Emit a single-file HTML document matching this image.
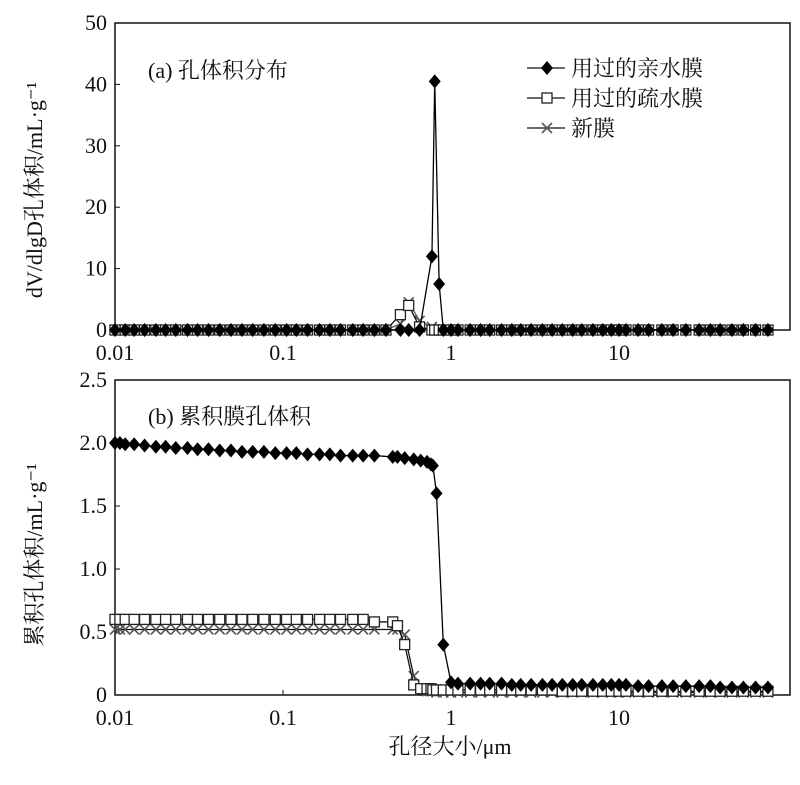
<!DOCTYPE html>
<html><head><meta charset="utf-8"><style>
body{margin:0;background:#fff}
svg text{font-family:"Liberation Serif","Noto Serif CJK SC","Noto Sans CJK SC",serif;fill:#111}
</style></head><body>
<svg id="c" width="800" height="780" xmlns="http://www.w3.org/2000/svg"></svg>
<script>
// ---- data ----
const xsA = [0.01,0.0115,0.013,0.015,0.0175,0.02,0.023,0.027,0.031,0.036,0.042,0.049,0.057,0.066,0.077,0.09,0.105,0.12,0.14,0.165,0.19,0.22,0.26,0.3,0.35,0.41,0.5,0.56,0.65,0.77,0.8,0.85,0.9,1.0,1.1,1.3,1.5,1.7,2,2.3,2.6,3,3.5,4,4.6,5.3,6,7,8,9,10,11,13,15,18,21,25,30,35,40,47,55,65,77];
const hydrophilicA = [0,0,0,0,0,0,0,0,0,0,0,0,0,0,0,0,0,0,0,0,0,0,0,0,0,0,0,0,0,12,40.5,7.5,0,0,0,0,0,0,0,0,0,0,0,0,0,0,0,0,0,0,0,0,0,0,0,0,0,0,0,0,0,0,0,0];
const hydrophobicA = [0,0,0,0,0,0,0,0,0,0,0,0,0,0,0,0,0,0,0,0,0,0,0,0,0,0,2.5,4,0.5,0,0,0,0,0,0,0,0,0,0,0,0,0,0,0,0,0,0,0,0,0,0,0,0,0,0,0,0,0,0,0,0,0,0,0];
const newA = [0,0,0,0,0,0,0,0,0,0,0,0,0,0,0,0,0,0,0,0,0,0,0,0,0,0,1,4.5,1.5,0.5,0,0,0,0,0,0,0,0,0,0,0,0,0,0,0,0,0,0,0,0,0,0,0,0,0,0,0,0,0,0,0,0,0,0];
const xsB = [0.01,0.0107,0.0115,0.013,0.015,0.0175,0.02,0.023,0.027,0.031,0.036,0.042,0.049,0.057,0.066,0.077,0.09,0.105,0.12,0.14,0.165,0.19,0.22,0.26,0.3,0.35,0.45,0.48,0.53,0.6,0.66,0.72,0.76,0.78,0.82,0.9,1.0,1.1,1.3,1.5,1.7,2,2.3,2.6,3,3.5,4,4.6,5.3,6,7,8,9,10,11,13,15,18,21,25,30,35,40,47,55,65,77];
const hydrophilicB = [2.0,2.0,1.99,1.99,1.98,1.97,1.97,1.96,1.96,1.95,1.95,1.94,1.94,1.93,1.93,1.93,1.92,1.92,1.92,1.91,1.91,1.91,1.9,1.9,1.9,1.9,1.89,1.89,1.88,1.87,1.86,1.85,1.83,1.82,1.6,0.4,0.1,0.09,0.09,0.09,0.09,0.09,0.08,0.08,0.08,0.08,0.08,0.08,0.08,0.08,0.08,0.08,0.08,0.08,0.08,0.07,0.07,0.07,0.07,0.07,0.07,0.07,0.06,0.06,0.06,0.06,0.06];
const hydrophobicB = [0.6,0.6,0.6,0.6,0.6,0.6,0.6,0.6,0.6,0.6,0.6,0.6,0.6,0.6,0.6,0.6,0.6,0.6,0.6,0.6,0.6,0.6,0.6,0.6,0.6,0.58,0.58,0.55,0.4,0.08,0.05,0.05,0.05,0.04,0.04,0.04,0.04,0.04,0.04,0.04,0.04,0.04,0.04,0.04,0.04,0.04,0.04,0.03,0.03,0.03,0.03,0.03,0.03,0.03,0.03,0.03,0.03,0.03,0.03,0.03,0.03,0.03,0.03,0.03,0.03,0.03,0.03];
const newB = [0.52,0.52,0.52,0.52,0.52,0.52,0.52,0.52,0.52,0.52,0.52,0.52,0.52,0.52,0.52,0.52,0.52,0.52,0.52,0.52,0.52,0.52,0.52,0.52,0.52,0.52,0.52,0.52,0.48,0.15,0.04,0.03,0.03,0.03,0.02,0.02,0.02,0.02,0.02,0.02,0.02,0.02,0.02,0.02,0.02,0.02,0.02,0.02,0.02,0.02,0.02,0.02,0.02,0.02,0.02,0.02,0.02,0.02,0.02,0.02,0.02,0.02,0.02,0.02,0.02,0.02,0.02];
const xTicks = [0.01,0.1,1,10];
const xTickLabels = ["0.01","0.1","1","10"];
const yTicksA = [0,10,20,30,40,50];
const yTicksB = [0,0.5,1.0,1.5,2.0,2.5];
const yTickLabelsB = ["0","0.5","1.0","1.5","2.0","2.5"];
const legendNames = ["用过的亲水膜","用过的疏水膜","新膜"];

const NS="http://www.w3.org/2000/svg", svg=document.getElementById('c');
function mk(t,a,p){const e=document.createElementNS(NS,t);for(const k in a)e.setAttribute(k,a[k]);(p||svg).appendChild(e);return e;}
const L=115,R=790;
const xs=v=>L+(Math.log10(v)+2)*168;
function panel(top,bot,ymax,yt,ytl,name){
  const g=mk('g',{});
  
  
  const y=v=>bot-(v/ymax)*(bot-top);
  const fr=mk('rect',{x:L,y:top,width:R-L,height:bot-top,fill:'none',stroke:'#111','stroke-width':1.5},g);
  
  
  yt.forEach((v,i)=>{
    mk('line',{x1:L,x2:L+5,y1:y(v),y2:y(v),stroke:'#111'},g);
    const t=mk('text',{x:L-8,y:y(v)+7,'text-anchor':'end','font-size':22},g);
    t.textContent=ytl?ytl[i]:String(v);
    
    
  });
  xTicks.forEach((v,i)=>{
    mk('line',{x1:xs(v),x2:xs(v),y1:bot,y2:bot-5,stroke:'#111'},g);
    const t=mk('text',{x:xs(v),y:bot+30,'text-anchor':'middle','font-size':22},g);
    t.textContent=xTickLabels[i];
    
    
  });
  return {g,y};
}
function marker(g,type,cx,cy){
  let e;
  if(type==='d') e=mk('path',{d:`M${cx} ${cy-7}L${cx+6} ${cy}L${cx} ${cy+7}L${cx-6} ${cy}Z`,fill:'#000'},g);
  else if(type==='s') e=mk('rect',{x:cx-5,y:cy-5,width:10,height:10,fill:'#fff',stroke:'#222','stroke-width':1.3},g);
  else e=mk('path',{d:`M${cx-5} ${cy-5}L${cx+5} ${cy+5}M${cx+5} ${cy-5}L${cx-5} ${cy+5}`,stroke:'#555','stroke-width':1.6},g);
  
  
}
function series(p,xsArr,vals,type,name,col){
  const g=mk('g',{},p.g);
  
  
  const pts=xsArr.map((x,i)=>xs(x)+','+p.y(vals[i])).join(' ');
  mk('polyline',{points:pts,fill:'none',stroke:col,'stroke-width':1.3},g);
  xsArr.forEach((x,i)=>marker(g,type,xs(x),p.y(vals[i])));
}
const A=panel(23,330,50,yTicksA,null,'panel-a');
series(A,xsA,newA,'x','series-new-a','#555');
series(A,xsA,hydrophobicA,'s','series-hydrophobic-a','#111');
series(A,xsA,hydrophilicA,'d','series-hydrophilic-a','#000');
const B=panel(380,695,2.5,yTicksB,yTickLabelsB,'panel-b');
series(B,xsB,newB,'x','series-new-b','#111');
series(B,xsB,hydrophobicB,'s','series-hydrophobic-b','#111');
series(B,xsB,hydrophilicB,'d','series-hydrophilic-b','#000');
function txt(s,a,n){const t=mk('text',a);t.textContent=s;return t;}
txt('(a) 孔体积分布',{x:148,y:78,'font-size':22},'panel-a-title');
txt('(b) 累积膜孔体积',{x:148,y:424,'font-size':22},'panel-b-title');
txt('孔径大小/μm',{x:450,y:754,'font-size':22,'text-anchor':'middle'},'x-axis-title');
txt('dV/dlgD孔体积/mL·g⁻¹',{x:0,y:0,'font-size':22,'text-anchor':'middle',transform:'translate(42,190) rotate(-90)'},'y-axis-title-a');
txt('累积孔体积/mL·g⁻¹',{x:0,y:0,'font-size':22,'text-anchor':'middle',transform:'translate(42,555) rotate(-90)'},'y-axis-title-b');
const types=['d','s','x'];
const lg=mk('g',{});


legendNames.forEach((n,i)=>{
  const yy=68+i*30;
  const e=mk('g',{},lg);
  
  
  mk('line',{x1:527,x2:565,y1:yy,y2:yy,stroke:'#111','stroke-width':1.3},e);
  marker(e,types[i],547,yy);
  const t=mk('text',{x:571,y:yy+8,'font-size':22},e);t.textContent=n;
});
</script>
</body></html>
